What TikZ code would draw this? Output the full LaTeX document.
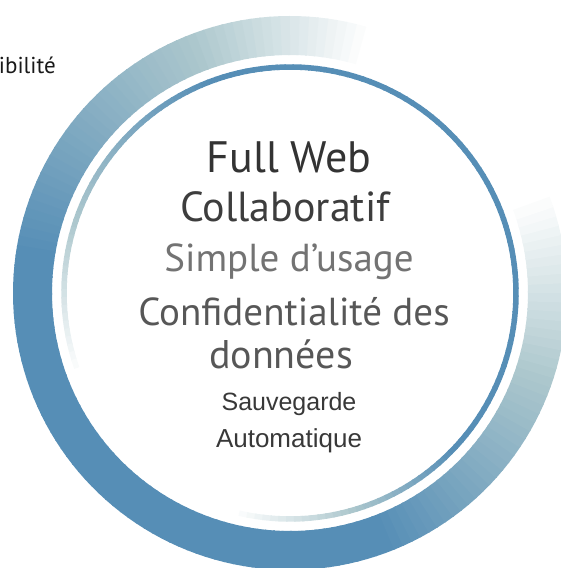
\documentclass[tikz,border=0pt]{standalone}
\usepackage{fontspec}
\setmainfont{PT Sans}
\newfontfamily\arialfont{Liberation Sans}
\definecolor{ringblue}{RGB}{86,142,182}
\definecolor{ringteal}{RGB}{172,199,205}
\newcommand{\fsz}[1]{\fontsize{#1}{#1}\selectfont}

\begin{document}
\begin{tikzpicture}[x=1pt,y=1pt,
    band/.style={line width=39pt,line cap=butt},
    thinring/.style={line width=5.5pt,line cap=butt},
    every node/.style={inner sep=0pt,anchor=base}]
    \useasboundingbox (0,0) rectangle (560,568);
    \coordinate (c) at (290,275);

    % outer band
    \foreach \a in {72,74,...,378} {
      \pgfmathsetmacro{\pw}{max(0,min(100,100*min((\a-72)/38,(380-\a)/40)))}
      \pgfmathsetmacro{\pb}{max(0,min(100,100*min((\a-110)/60,(340-\a)/50)))}
      \draw[band,draw=ringblue!\pb!ringteal!\pw!white]
        ([shift={(\a:257.5)}]c) arc[start angle=\a,delta angle=2.4,radius=257.5];
    }
    % inner ring
    \foreach \a in {255,257,...,558} {
      \pgfmathsetmacro{\pw}{max(0,min(100,100*min((\a-255)/30,(560-\a)/40)))}
      \pgfmathsetmacro{\pb}{max(0,min(100,100*min((\a-285)/30,(520-\a)/50)))}
      \draw[thinring,draw=ringblue!\pb!ringteal!\pw!white]
        ([shift={(\a:226)}]c) arc[start angle=\a,delta angle=2.4,radius=226];
    }

    \node[anchor=base east,text=black!90] (vis) at (56,494) {\fsz{23}ibilité};
    \node[text=black!80] (web) at (289,395) {\fsz{44}Full Web};
    \node[text=black!76] (collab) at (285,346) {\fsz{42}Collaboratif};
    \node[text=black!55] (usage) at (289,296) {\fsz{39}Simple d’usage};
    \node[text=black!66] (confid) at (294,242) {\fsz{39}Confidentialité des};
    \node[text=black!66] (data) at (281,199) {\fsz{40}données};
    \node[text=black!78] (save) at (289,157) {\arialfont\fsz{25}Sauvegarde};
    \node[text=black!78] (auto) at (289,120) {\arialfont\fsz{26}Automatique};
\end{tikzpicture}
\end{document}
